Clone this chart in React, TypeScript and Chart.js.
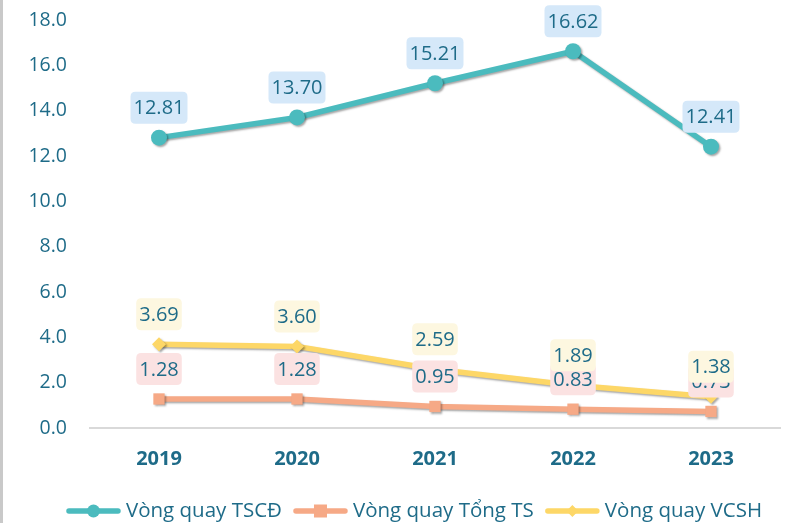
import React, { useEffect, useRef } from "react";
import { Chart, registerables } from "chart.js";

Chart.register(...registerables);

const years = ["2019", "2020", "2021", "2022", "2023"];
const seriesNames = ["Vòng quay TSCĐ", "Vòng quay Tổng TS", "Vòng quay VCSH"];
const tscd = [12.81, 13.7, 15.21, 16.62, 12.41];
const tongTS = [1.28, 1.28, 0.95, 0.83, 0.73];
const vcsh = [3.69, 3.6, 2.59, 1.89, 1.38];
const yMin = 0;
const yMax = 18;
const yStep = 2;

const lineColors = ["#4bbbbe", "#f6a986", "#fdd767"];
const labelFills = ["#d5e8f9", "#fbe2e2", "#fdf7e0"];
const pointStyles = ["circle", "rect", "rectRot"];
const pointRadii = [8, 8, 7];
const textColor = "#1e6b88";
const FONT = "'Open Sans', 'Noto Sans', sans-serif";

function roundRect(ctx: CanvasRenderingContext2D, x: number, y: number, w: number, h: number, r: number) {
  ctx.beginPath();
  ctx.moveTo(x + r, y);
  ctx.lineTo(x + w - r, y);
  ctx.quadraticCurveTo(x + w, y, x + w, y + r);
  ctx.lineTo(x + w, y + h - r);
  ctx.quadraticCurveTo(x + w, y + h, x + w - r, y + h);
  ctx.lineTo(x + r, y + h);
  ctx.quadraticCurveTo(x, y + h, x, y + h - r);
  ctx.lineTo(x, y + r);
  ctx.quadraticCurveTo(x, y, x + r, y);
  ctx.closePath();
}

const shadowPlugin = {
  id: "shadowPlugin",
  beforeDatasetDraw(chart: any) {
    const ctx = chart.ctx;
    ctx.save();
    ctx.shadowColor = "rgba(0,0,0,0.35)";
    ctx.shadowBlur = 2;
    ctx.shadowOffsetX = 1.5;
    ctx.shadowOffsetY = 1.5;
  },
  afterDatasetDraw(chart: any) {
    chart.ctx.restore();
  },
};

const labelPlugin = {
  id: "labelPlugin",
  afterDatasetsDraw(chart: any) {
    const ctx = chart.ctx;
    ctx.save();
    ctx.font = `20px ${FONT}`;
    ctx.textAlign = "center";
    ctx.textBaseline = "middle";
    [0, 1, 2].forEach((di) => {
      const meta = chart.getDatasetMeta(di);
      const data = chart.data.datasets[di].data;
      meta.data.forEach((pt: any, i: number) => {
        const txt = Number(data[i]).toFixed(2);
        const w = ctx.measureText(txt).width + 6;
        const h = 32;
        const cx = pt.x;
        const cy = pt.y - 30;
        ctx.fillStyle = labelFills[di];
        roundRect(ctx, cx - w / 2, cy - h / 2, w, h, 5);
        ctx.fill();
        ctx.fillStyle = textColor;
        ctx.fillText(txt, cx, cy + 1);
      });
    });
    ctx.restore();
  },
};

const frameLegendPlugin = {
  id: "frameLegendPlugin",
  afterDraw(chart: any) {
    const ctx = chart.ctx;
    ctx.save();
    ctx.fillStyle = "#c9c9c9";
    ctx.fillRect(0, 0, 3, chart.height);
    ctx.font = `20.5px ${FONT}`;
    ctx.textBaseline = "middle";
    const lineLen = 55;
    const gapText = 5;
    const gapItem = 11;
    const widths = seriesNames.map((n) => lineLen + gapText + ctx.measureText(n).width);
    const total = widths.reduce((a, b) => a + b, 0) + gapItem * (seriesNames.length - 1);
    let x = 414 - total / 2;
    const y = 511;
    seriesNames.forEach((name, i) => {
      ctx.strokeStyle = lineColors[i];
      ctx.lineWidth = 5.5;
      ctx.lineCap = "round";
      ctx.beginPath();
      ctx.moveTo(x + 3, y);
      ctx.lineTo(x + lineLen - 3, y);
      ctx.stroke();
      ctx.fillStyle = lineColors[i];
      const mx = x + lineLen / 2;
      if (pointStyles[i] === "circle") {
        ctx.beginPath();
        ctx.arc(mx, y, 6.5, 0, Math.PI * 2);
        ctx.fill();
      } else if (pointStyles[i] === "rect") {
        ctx.fillRect(mx - 6.5, y - 6.5, 13, 13);
      } else {
        ctx.beginPath();
        ctx.moveTo(mx, y - 6);
        ctx.lineTo(mx + 6, y);
        ctx.lineTo(mx, y + 6);
        ctx.lineTo(mx - 6, y);
        ctx.closePath();
        ctx.fill();
      }
      ctx.fillStyle = textColor;
      ctx.textAlign = "left";
      ctx.fillText(name, x + lineLen + gapText, y);
      x += widths[i] + gapItem;
    });
    ctx.restore();
  },
};

export default function App() {
  const ref = useRef<HTMLCanvasElement | null>(null);
  useEffect(() => {
    if (!ref.current) return;
    const seriesData = [tscd, tongTS, vcsh];
    const chart = new Chart(ref.current, {
      type: "line",
      data: {
        labels: years,
        datasets: seriesData.map((d, i) => ({
          label: seriesNames[i],
          data: d,
          borderColor: lineColors[i],
          backgroundColor: lineColors[i],
          borderWidth: 5.5,
          pointStyle: pointStyles[i] as any,
          pointRadius: pointRadii[i],
          pointHoverRadius: pointRadii[i],
          pointBorderWidth: 0,
          tension: 0,
          clip: false as any,
          order: i === 1 ? 0 : i === 0 ? 2 : 1,
        })),
      },
      options: {
        animation: false,
        responsive: false,
        maintainAspectRatio: false,
        layout: { padding: { top: 20, right: 27, left: 0, bottom: 0 } },
        plugins: {
          legend: { display: false },
          tooltip: { enabled: false },
        },
        scales: {
          x: {
            offset: true,
            grid: { display: false, drawTicks: false },
            border: { display: true, color: "#d9d9d9", width: 2 },
            ticks: {
              color: textColor,
              font: { family: FONT, size: 20, weight: "bold" },
              padding: 19,
            },
            afterFit: (scale: any) => {
              scale.height = 95;
              scale.paddingLeft = 0;
              scale.paddingRight = 0;
            },
          },
          y: {
            min: yMin,
            max: yMax,
            grid: { display: false, drawTicks: false },
            border: { display: false },
            ticks: {
              stepSize: yStep,
              color: textColor,
              font: { family: FONT, size: 19.5 },
              padding: 23,
              callback: (v: any) => Number(v).toFixed(1),
            },
            afterFit: (scale: any) => {
              scale.width = 90;
              scale.paddingTop = 0;
              scale.paddingBottom = 0;
            },
          },
        },
      },
      plugins: [shadowPlugin, labelPlugin, frameLegendPlugin],
    });
    return () => chart.destroy();
  }, []);
  return (
    <div style={{ position: "fixed", left: 0, top: 0, width: 807, height: 523, background: "#fff" }}>
      <canvas ref={ref} width={807} height={523} style={{ display: "block", width: 807, height: 523 }} />
    </div>
  );
}
